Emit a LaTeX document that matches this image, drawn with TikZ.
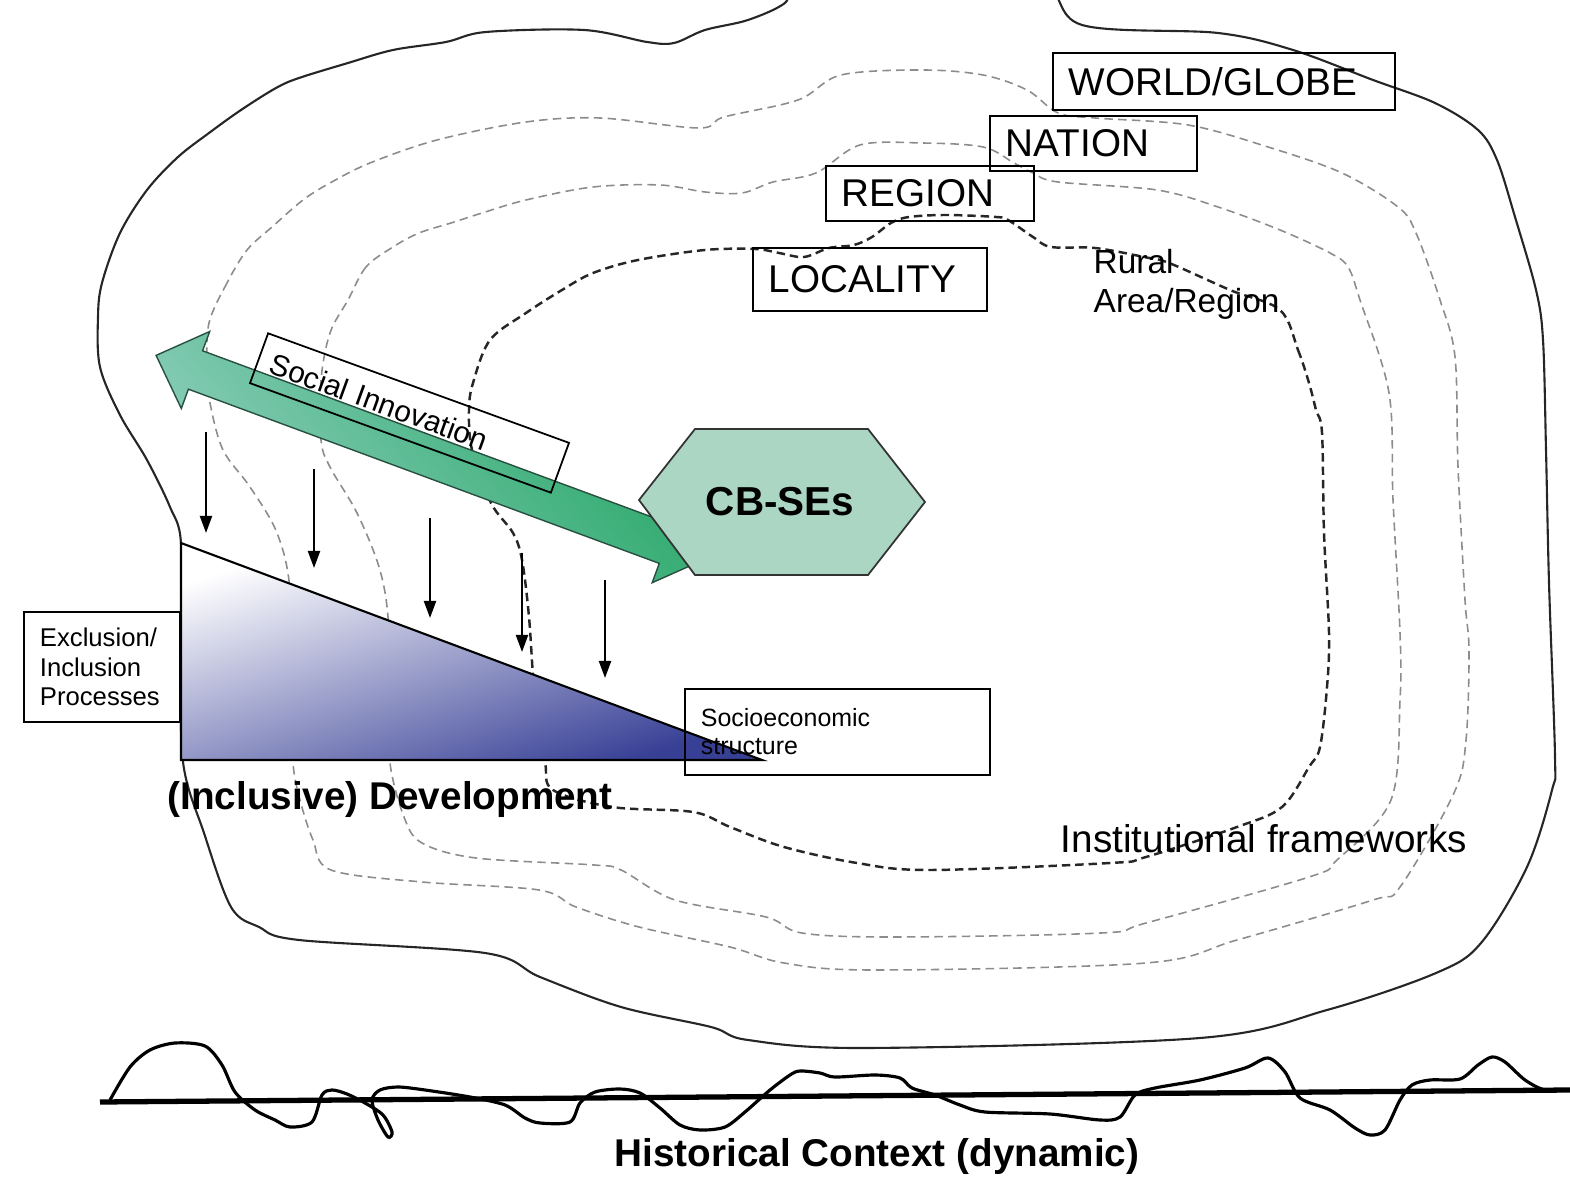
\documentclass[tikz,border=0pt]{standalone}
\usepackage{fontspec}
\setmainfont{Liberation Sans}
\usetikzlibrary{arrows.meta}
\definecolor{hexgreen}{RGB}{172,214,196}
\definecolor{siteal}{RGB}{143,207,190}
\definecolor{sigreen}{RGB}{36,166,100}
\definecolor{siedge}{RGB}{40,80,65}
\definecolor{tridark}{RGB}{56,64,150}
\tikzset{blobline/.style={draw=black!85, line width=0.6pt}}
\tikzset{levelline/.style={draw=black!45, line width=0.45pt, dash pattern=on 2.4pt off 1.5pt}}
\tikzset{ruralline/.style={draw=black!85, line width=0.7pt, dash pattern=on 2.4pt off 1.4pt}}
\tikzset{downarrow/.style={->, >={Stealth[length=1.7mm, width=1.2mm, inset=0pt]}, line width=0.6pt}}
\tikzset{levelbox/.style={draw, line width=0.5pt, inner xsep=1.6mm, inner ysep=0pt, align=left, font=\fontsize{11}{13}\selectfont}}
\tikzset{smallbox/.style={draw, line width=0.5pt, inner xsep=1.6mm, inner ysep=0pt, align=left}}

\begin{document}
\begin{tikzpicture}[x=0.01cm, y=-0.01cm]
\useasboundingbox (0,0) rectangle (1570,1180);
\clip (0,0) rectangle (1570,1180);
\draw[blobline] plot[smooth cycle, tension=0.55] coordinates {(1040,-20) (1082,25) (1218,33) (1293,50) (1373,80) (1435,103) (1478,130) (1497,160) (1515,217) (1536,290) (1543,340) (1546,450) (1549,583) (1555,757) (1552,790) (1527,867) (1481,943) (1436,973) (1327,1010) (1200,1038) (866,1048) (748,1040) (711,1027) (621,1007) (540,977) (485,953) (299,940) (259,927) (231,907) (204,833) (183,762) (181,650) (181,543) (170,507) (147,460) (120,415) (100,367) (98,317) (102,283) (120,233) (147,190) (178,157) (209,133) (241,110) (276,88) (299,78) (348,63) (393,50) (446,42) (486,32) (584,30) (647,42) (674,43) (705,30) (748,20) (785,3) (800,-20) (920,-40)};
\draw[levelline] plot[smooth cycle, tension=0.55] coordinates {(247,250) (227,283) (209,323) (207,370) (210,403) (223,450) (250,487) (277,533) (290,590) (292,700) (293,763) (300,800) (313,840) (331,870) (422,882) (539,890) (576,907) (639,927) (730,947) (784,963) (875,970) (1146,963) (1237,940) (1373,900) (1400,887) (1454,793) (1466,740) (1469,650) (1465,600) (1458,467) (1455,357) (1440,300) (1416,233) (1398,207) (1342,173) (1268,147) (1188,125) (1095,118) (1058,113) (1027,90) (983,75) (922,70) (841,75) (798,100) (724,117) (699,128) (600,118) (526,122) (437,140) (370,163) (330,183) (303,200) (272,227)};
\draw[levelline] plot[smooth cycle, tension=0.55] coordinates {(393,247) (366,267) (348,300) (330,333) (321,380) (321,440) (330,467) (357,513) (379,567) (388,617) (390,700) (390,763) (404,817) (422,843) (476,858) (594,865) (621,870) (675,900) (766,917) (802,933) (893,937) (1101,933) (1146,923) (1309,877) (1337,860) (1391,800) (1400,700) (1400,633) (1393,500) (1389,393) (1360,300) (1348,267) (1330,253) (1280,230) (1218,207) (1157,190) (1058,182) (1033,173) (1014,163) (983,147) (922,143) (860,145) (816,173) (773,182) (742,193) (705,192) (660,185) (593,187) (526,200) (482,213) (451,223) (419,233)};
\draw[ruralline] plot[smooth cycle, tension=0.55] coordinates {(1280,310) (1298,350) (1309,383) (1316,410) (1322,433) (1324,533) (1329,633) (1327,687) (1320,747) (1309,767) (1282,807) (1237,827) (1146,857) (1110,863) (929,870) (857,863) (784,847) (730,827) (693,812) (612,807) (553,790) (545,762) (535,700) (529,617) (522,560) (513,533) (491,503) (472,450) (469,410) (473,383) (490,340) (526,313) (562,290) (593,273) (638,260) (705,250) (755,249) (779,253) (804,257) (829,248) (854,245) (872,237) (891,223) (909,217) (946,215) (996,217) (1008,220) (1033,237) (1051,247) (1095,248) (1144,257) (1169,263) (1230,290)};
\shade[draw=siedge, line width=0.4pt, top color=sigreen, bottom color=siteal, shading angle=-50] (156.1,355.4) -- (209.7,331.5) -- (202.6,350.8) -- (673.5,525) -- (680.6,505.7) -- (705.8,558.8) -- (652.2,582.7) -- (659.3,563.4) -- (188.4,389.2) -- (181.3,408.5) -- cycle;
\node[draw, line width=0.5pt, rotate=-20, minimum height=5.3mm, text width=29.4mm, inner xsep=1.3mm, align=left, font=\fontsize{8.5}{10}\selectfont] (si) at (409.5,413) {Social Innovation};
\filldraw[fill=hexgreen, draw=black!80, line width=0.5pt] (639,500) -- (695,429) -- (868,429) -- (925,502) -- (868,575) -- (695,575) -- cycle;
\node[font=\bfseries\fontsize{11.5}{13}\selectfont] (cbses) at (780,502) {CB-SEs};
\shadedraw[draw=black, line width=0.6pt, top color=white, bottom color=tridark, shading angle=18] (181,543) -- (762,760) -- (181,760) -- cycle;
\foreach \x/\ya/\yb in {206/432/533, 314/469/568, 430/518/618, 522/553/652, 605/580/678}
  \draw[downarrow] (\x,\ya) -- (\x,\yb);
\node[levelbox, text width=31mm, minimum height=5.7mm] (world) at (1224,81.5) {WORLD/GLOBE};
\node[levelbox, text width=17.5mm, minimum height=5.5mm] (nation) at (1093.5,143.5) {NATION};
\node[levelbox, text width=17.6mm, minimum height=5.5mm] (region) at (930,193.5) {REGION};
\node[levelbox, text width=20.2mm, minimum height=6.3mm] (local) at (870,279.5) {LOCALITY};
\node[anchor=north west, inner sep=0pt, align=left, font=\fontsize{9.5}{11}\selectfont] (rural) at (1093,249) {Rural\\Area/Region};
\node[smallbox, text width=12.4mm, minimum height=11mm, font=\fontsize{7.3}{8.3}\selectfont] (excl) at (102,667) {Exclusion/\\Inclusion\\Processes};
\node[smallbox, text width=27.3mm, minimum height=8.6mm, font=\fontsize{7.1}{8}\selectfont] (socio) at (837.5,732) {Socioeconomic\\structure};
\node[anchor=base, inner sep=0pt, font=\bfseries\fontsize{11}{13}\selectfont] (dev) at (390,810) {(Inclusive) Development};
\node[anchor=base, inner sep=0pt, font=\fontsize{11}{13}\selectfont] (inst) at (1264,853) {Institutional frameworks};
\draw[line width=1.5pt] (100,1102) -- (1570,1090);
\draw[line width=0.9pt] plot[smooth, tension=0.5] coordinates {(110,1100) (130,1067) (150,1050) (175,1043) (205,1046) (222,1065) (235,1092) (255,1110) (275,1120) (290,1127) (312,1122) (322,1095) (332,1090) (347,1094) (365,1103) (383,1115) (392,1132) (388,1137) (378,1120) (372,1100) (380,1090) (398,1087) (425,1090) (470,1097) (505,1105) (525,1118) (540,1123) (570,1122) (580,1103) (595,1092) (620,1089) (640,1093) (660,1108) (680,1125) (700,1130) (725,1127) (745,1112) (770,1090) (790,1075) (800,1071) (820,1073) (835,1077) (875,1075) (900,1078) (912,1088) (935,1095) (960,1105) (985,1112) (1050,1114) (1100,1120) (1120,1117) (1135,1095) (1155,1088) (1200,1080) (1245,1068) (1268,1058) (1285,1072) (1300,1098) (1330,1110) (1355,1128) (1370,1135) (1385,1130) (1400,1100) (1412,1085) (1430,1080) (1460,1079) (1478,1065) (1492,1057) (1505,1062) (1525,1080) (1545,1090) (1570,1090)};
\node[anchor=base, inner sep=0pt, font=\bfseries\fontsize{11}{13}\selectfont] (hist) at (877,1166) {Historical Context (dynamic)};
\end{tikzpicture}
\end{document}
